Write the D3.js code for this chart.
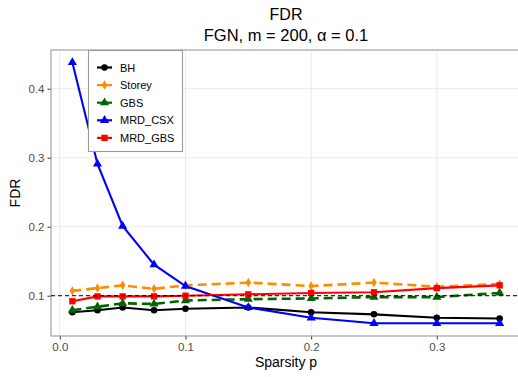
<!DOCTYPE html>
<html lang="en">
<head>
<meta charset="UTF-8">
<title>FDR</title>
<script src="https://d3js.org/d3.v7.min.js"></script>
<style>
  body { margin: 0; background: #fff; }
  svg text { font-family: "Liberation Sans", Arial, sans-serif; }
  .tick text { fill: #4d4d4d; font-size: 11.5px; }
  .tick line { stroke: #333; }
</style>
</head>
<body>
<div id="chart"></div>
<script>
// Data
const sparsity = [0.01, 0.03, 0.05, 0.075, 0.1, 0.15, 0.2, 0.25, 0.3, 0.35];
const bh      = [0.076, 0.079, 0.083, 0.079, 0.081, 0.083, 0.076, 0.073, 0.068, 0.067];
const storey  = [0.107, 0.111, 0.115, 0.110, 0.115, 0.119, 0.114, 0.119, 0.113, 0.117];
const gbs     = [0.079, 0.084, 0.089, 0.088, 0.093, 0.095, 0.096, 0.098, 0.098, 0.104];
const mrdCsx  = [0.438, 0.291, 0.201, 0.145, 0.114, 0.083, 0.068, 0.060, 0.060, 0.060];
const mrdGbs  = [0.092, 0.099, 0.099, 0.099, 0.100, 0.102, 0.104, 0.105, 0.111, 0.115];
const xTicks = [0.0, 0.1, 0.2, 0.3];
const yTicks = [0.1, 0.2, 0.3, 0.4];
const alpha = 0.1;

const series = [
  {name: "BH",      values: bh,     color: "#000000", dash: null,  shape: "circle"},
  {name: "Storey",  values: storey, color: "#FF8C00", dash: "9,5", shape: "diamond"},
  {name: "GBS",     values: gbs,    color: "#006400", dash: "9,5", shape: "triangle"},
  {name: "MRD_CSX", values: mrdCsx, color: "#0000FF", dash: null,  shape: "triangle"},
  {name: "MRD_GBS", values: mrdGbs, color: "#FF0000", dash: null,  shape: "square"}
];

const W = 518, H = 377;
const panel = {left: 51, right: 521, top: 50, bottom: 336};

const svg = d3.select("#chart").append("svg")
  .attr("width", W).attr("height", H);

// scales (ggplot-style 5% expansion)
const xs = d3.scaleLinear().domain([-0.007, 0.367]).range([panel.left, panel.right]);
const ys = d3.scaleLinear().domain([0.0416, 0.4561]).range([panel.bottom, panel.top]);

// grid
svg.append("g").selectAll("line").data(xTicks).join("line")
  .attr("x1", d => xs(d)).attr("x2", d => xs(d))
  .attr("y1", panel.top).attr("y2", panel.bottom)
  .attr("stroke", "#ebebeb").attr("stroke-width", 1);
svg.append("g").selectAll("line").data(yTicks).join("line")
  .attr("x1", panel.left).attr("x2", panel.right)
  .attr("y1", d => ys(d)).attr("y2", d => ys(d))
  .attr("stroke", "#ebebeb").attr("stroke-width", 1);

// axes
const xAxis = svg.append("g")
  .attr("transform", `translate(0,${panel.bottom})`)
  .call(d3.axisBottom(xs).tickValues(xTicks).tickFormat(d3.format(".1f")).tickSizeOuter(0).tickSize(3.5).tickPadding(3));
const yAxis = svg.append("g")
  .attr("transform", `translate(${panel.left},0)`)
  .call(d3.axisLeft(ys).tickValues(yTicks).tickFormat(d3.format(".1f")).tickSizeOuter(0).tickSize(3.5).tickPadding(3));
xAxis.select(".domain").remove();
yAxis.select(".domain").remove();

// panel border
svg.append("rect")
  .attr("x", panel.left).attr("y", panel.top)
  .attr("width", panel.right - panel.left).attr("height", panel.bottom - panel.top)
  .attr("fill", "none").attr("stroke", "#9a9a9a").attr("stroke-width", 1.1);

const symbolFor = {
  circle: d3.symbol().type(d3.symbolCircle).size(34),
  diamond: d3.symbol().type(d3.symbolDiamond).size(26),
  triangle: d3.symbol().type(d3.symbolTriangle).size(36),
  square: d3.symbol().type(d3.symbolSquare).size(40)
};

const line = d3.line().x(d => xs(d[0])).y(d => ys(d[1]));

const plot = svg.append("g");
series.forEach(s => {
  const pts = sparsity.map((x, i) => [x, s.values[i]]);
  plot.append("path").datum(pts)
    .attr("d", line)
    .attr("fill", "none")
    .attr("stroke", s.color)
    .attr("stroke-width", s.dash ? 2.6 : 2.1)
    .attr("stroke-dasharray", s.dash);
  plot.append("g").selectAll("path").data(pts).join("path")
    .attr("transform", d => `translate(${xs(d[0])},${ys(d[1])})`)
    .attr("d", symbolFor[s.shape])
    .attr("fill", s.color);
});

// alpha reference line
svg.append("line")
  .attr("x1", panel.left).attr("x2", panel.right)
  .attr("y1", ys(alpha)).attr("y2", ys(alpha))
  .attr("stroke", "#000").attr("stroke-width", 1)
  .attr("stroke-dasharray", "4,3");

// legend
const lg = svg.append("g");
lg.append("rect")
  .attr("x", 88.5).attr("y", 50.5).attr("width", 94).attr("height", 101)
  .attr("fill", "#fff").attr("stroke", "#9a9a9a").attr("stroke-width", 1.1);
series.forEach((s, i) => {
  const y = 67.5 + i * 17.6;
  lg.append("line")
    .attr("x1", 97).attr("x2", 112).attr("y1", y).attr("y2", y)
    .attr("stroke", s.color).attr("stroke-width", 2.2);
  lg.append("path")
    .attr("transform", `translate(104.5,${y})`)
    .attr("d", symbolFor[s.shape])
    .attr("fill", s.color);
  lg.append("text")
    .attr("x", 120).attr("y", y + 4)
    .attr("font-size", 11).attr("fill", "#000")
    .text(s.name);
});

// titles
svg.append("text").attr("x", 286).attr("y", 20)
  .attr("text-anchor", "middle").attr("font-size", 16).text("FDR");
svg.append("text").attr("x", 286).attr("y", 41)
  .attr("text-anchor", "middle").attr("font-size", 16.5).text("FGN, m = 200, α = 0.1");
svg.append("text").attr("x", 286).attr("y", 367)
  .attr("text-anchor", "middle").attr("font-size", 14).text("Sparsity p");
svg.append("text")
  .attr("transform", `translate(20,${(panel.top + panel.bottom) / 2}) rotate(-90)`)
  .attr("text-anchor", "middle").attr("font-size", 14).text("FDR");
</script>
</body>
</html>
